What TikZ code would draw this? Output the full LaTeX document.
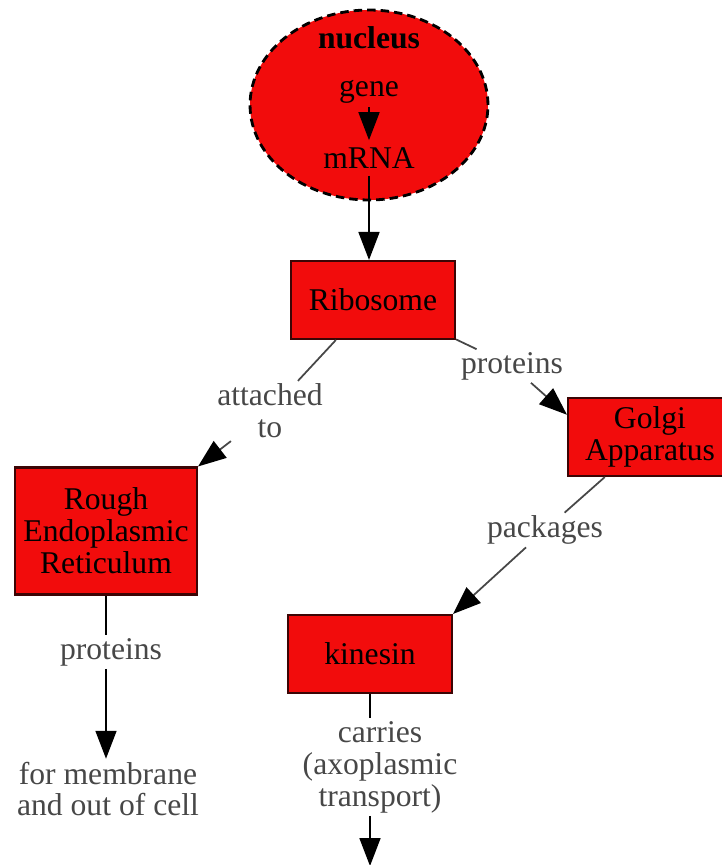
\documentclass[tikz,border=0pt]{standalone}
\usepackage{fontspec}
\setmainfont{Liberation Serif}
\usetikzlibrary{shapes.geometric,arrows.meta}
\definecolor{cellred}{HTML}{F20C0C}
\definecolor{rimred}{HTML}{3C0505}
\tikzset{
  organelle/.style={draw=rimred, fill=cellred, line width=1.2pt, align=center, inner sep=2pt},
  linktext/.style={text=black!72, align=center, inner sep=1.5pt},
  link/.style={draw=black!72, line width=1pt},
  linkarrow/.style={link, -{Triangle[length=0.56cm,width=0.42cm,black]}}
}
\begin{document}
\begin{tikzpicture}[x=0.02cm, y=-0.02cm, font=\fontsize{18}{18.2}\selectfont]
        \pgfmathsetmacro{\boxw}{3.28}
        \pgfmathsetmacro{\boxh}{1.56}
        \clip (0,0) rectangle (722,865);
        % nucleus
        \node [ellipse, draw, dash pattern=on 0.17cm off 0.1cm, line width=1.6pt, fill=cellred,
               minimum width=4.76cm, minimum height=3.8cm] (nucleus) at (369,105) {};
        \node (nucleustitle) at (369,38) {\bfseries nucleus};
        \node [inner sep=2pt] (gene) at (369,92) {gene};
        \node [inner sep=4pt] (mrna) at (369,158) {mRNA};
        % organelles
        \node [organelle, minimum width=\boxw cm, minimum height=\boxh cm] (ribosome) at (373,300) {Ribosome};
        \node [organelle, minimum width=\boxw cm, minimum height=\boxh cm] (golgi) at (650,437) {Golgi\\Apparatus};
        \node [organelle, minimum width=3.64cm, minimum height=2.54cm] (rer) at (106,531) {Rough\\Endoplasmic\\Reticulum};
        \node [organelle, minimum width=\boxw cm, minimum height=\boxh cm] (kinesin) at (370,654) {kinesin};
        % link texts
        \node [linktext] (attached) at (270,411) {attached\\to};
        \node [linktext] (proteinsgolgi) at (512,366) {proteins};
        \node [linktext] (packages) at (545,530) {packages};
        \node [linktext] (proteinsrer) at (111,652) {proteins};
        \node [linktext] (membrane) at (108,789) {for membrane\\and out of cell};
        \node [linktext] (carries) at (380,767) {carries\\(axoplasmic\\transport)};
        \coordinate (transport) at (370,866);
        % links
        \draw [linkarrow, draw=black] (gene) -- (mrna);
        \draw [linkarrow, draw=black] (mrna) -- (mrna |- ribosome.north);
        \draw [link] (ribosome) -- (attached);
        \draw [linkarrow] (attached) -- (rer.north east);
        \draw [link] (ribosome) -- (proteinsgolgi);
        \draw [linkarrow] (proteinsgolgi) -- (golgi.165);
        \draw [link] (golgi) -- (packages);
        \draw [linkarrow] (packages) -- (kinesin.north east);
        \draw [link, draw=black] (rer) -- (rer |- proteinsrer.north);
        \draw [linkarrow, draw=black] (rer |- proteinsrer.south) -- (rer |- membrane.north);
        \draw [link, draw=black] (kinesin) -- (kinesin |- carries.north);
        \draw [linkarrow, draw=black] (kinesin |- carries.south) -- (transport);
\end{tikzpicture}
\end{document}
